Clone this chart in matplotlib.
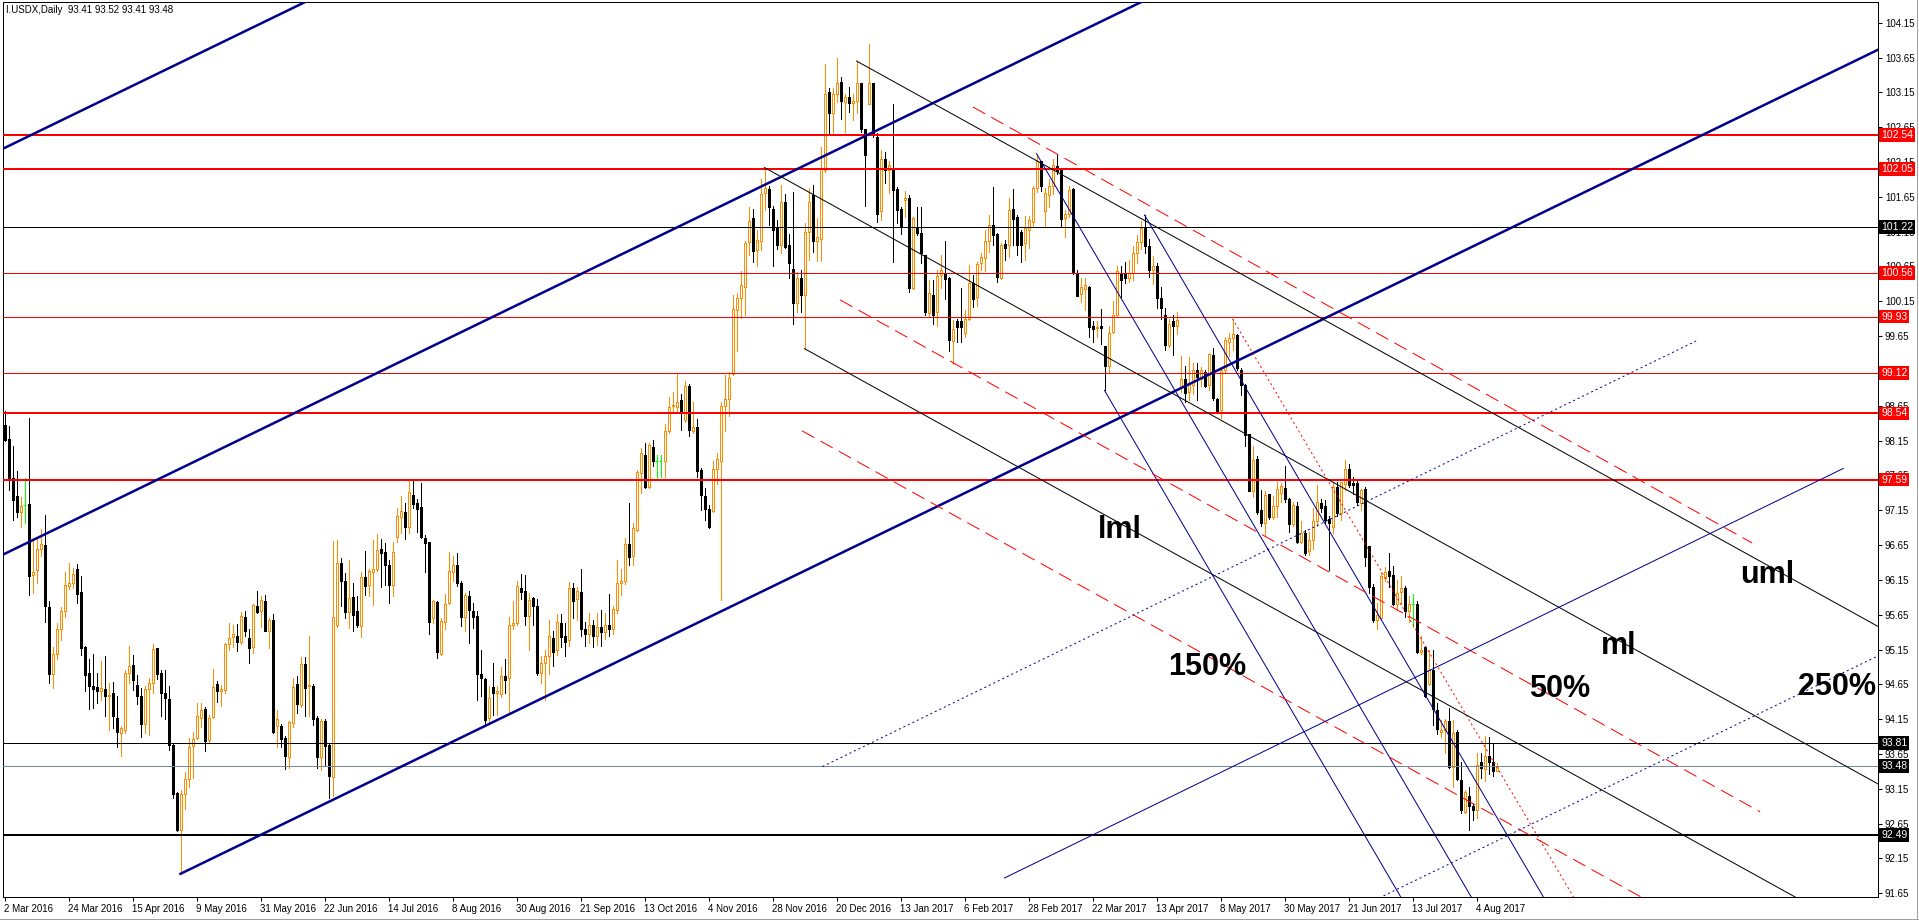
import matplotlib
matplotlib.use("Agg")
import matplotlib.pyplot as plt
from matplotlib.lines import Line2D

plt.rcParams['font.family'] = ['Liberation Sans', 'DejaVu Sans']

symbol = "I.USDX,Daily"

# daily OHLC, one value per bar starting 2 Mar 2016
opens = [
    98.38, 98.17, 97.61, 97.35, 97.13, 97.23, 97.24, 96.22, 96.29, 96.59,
    96.65, 95.76, 94.80, 95.08, 95.44, 95.70, 96.06, 96.10, 96.30, 95.97,
    95.19, 94.81, 94.62, 94.61, 94.55, 94.59, 94.48, 94.52, 94.16, 93.95,
    94.00, 94.82, 94.93, 94.64, 94.48, 94.08, 94.58, 94.67, 95.17, 94.82,
    94.53, 94.44, 93.78, 93.09, 92.56, 93.07, 93.29, 93.76, 93.88, 94.16,
    94.30, 93.85, 94.18, 94.66, 94.56, 94.57, 95.23, 95.33, 95.34, 95.26,
    95.62, 95.31, 95.18, 95.78, 95.71, 95.85, 95.42, 95.58, 94.05, 94.05,
    93.88, 93.61, 94.09, 94.66, 94.36, 94.94, 94.62, 94.63, 94.16, 93.60,
    94.12, 93.78, 93.32, 95.50, 96.39, 96.13, 95.69, 95.91, 95.71, 95.49,
    96.19, 96.08, 96.27, 96.30, 96.59, 96.55, 96.36, 96.08, 96.77, 97.05,
    97.13, 96.91, 97.37, 97.25, 97.20, 96.75, 96.70, 95.60, 95.83, 95.09,
    95.55, 95.82, 96.26, 96.36, 96.11, 95.62, 95.92, 95.71, 95.63, 94.80,
    94.72, 94.16, 94.61, 94.53, 94.51, 94.77, 94.74, 95.50, 95.53, 96.04,
    95.99, 95.63, 95.89, 95.78, 94.81, 94.95, 95.05, 95.32, 95.14, 95.53,
    95.34, 95.28, 96.04, 95.87, 95.97, 95.45, 95.38, 95.50, 95.35, 95.48,
    95.40, 95.50, 95.45, 95.72, 96.10, 96.13, 96.66, 96.50, 96.87, 97.68,
    97.95, 97.49, 98.06, 97.86, 97.86, 97.86, 98.29, 98.64, 98.63, 98.73,
    98.45, 98.94, 98.29, 98.34, 97.73, 97.36, 97.17, 97.14, 97.74, 97.86,
    98.64, 98.75, 99.11, 100.03, 100.20, 100.35, 101.00, 101.35, 100.88, 101.01,
    101.71, 101.76, 101.47, 101.20, 100.96, 101.58, 100.96, 100.61, 100.13, 100.48,
    100.24, 101.14, 101.68, 101.01, 101.05, 102.03, 103.16, 102.86, 103.13, 103.30,
    103.01, 103.09, 102.99, 103.02, 103.28, 102.62, 102.98, 103.29, 102.51, 101.44,
    102.20, 102.03, 102.03, 101.76, 101.48, 101.61, 101.63, 100.34, 101.22, 101.13,
    100.81, 99.98, 100.24, 99.99, 100.53, 100.56, 100.48, 99.58, 99.86, 99.87,
    99.69, 99.89, 100.41, 100.21, 100.70, 100.77, 101.01, 101.25, 101.12, 100.49,
    100.97, 100.96, 101.47, 101.36, 101.15, 100.98, 101.18, 101.29, 101.77, 102.16,
    101.44, 101.68, 101.80, 102.09, 102.04, 101.34, 101.40, 101.76, 100.56, 100.26,
    100.32, 100.36, 99.80, 99.76, 99.80, 99.51, 99.22, 99.71, 99.95, 100.56,
    100.56, 100.49, 100.56, 100.85, 101.00, 101.20, 100.95, 100.60, 100.65, 100.20,
    99.95, 99.52, 99.86, 99.80, 98.93, 99.03, 98.85, 98.95, 99.16, 99.03,
    99.14, 98.95, 99.38, 98.74, 98.59, 99.16, 99.57, 99.63, 99.67, 99.17,
    98.95, 98.25, 97.43, 97.88, 97.15, 96.97, 97.38, 97.05, 97.21, 97.40,
    97.47, 97.31, 96.95, 97.21, 96.69, 96.83, 96.56, 96.72, 96.99, 97.26,
    97.21, 97.02, 96.91, 97.49, 97.11, 97.53, 97.74, 97.54, 97.54, 97.26,
    97.46, 96.63, 96.05, 95.57, 95.60, 96.17, 96.28, 96.22, 95.81, 95.98,
    96.03, 95.71, 95.80, 95.80, 95.11, 95.19, 94.66, 94.86, 94.28, 93.96,
    94.00, 94.13, 93.47, 93.96, 93.28, 92.82, 93.05, 92.90, 92.85, 93.54,
    93.43, 93.62, 93.54, 93.41,
]
highs = [
    98.57, 98.36, 98.07, 97.72, 97.34, 97.61, 98.47, 96.75, 96.74, 96.88,
    97.08, 95.85, 95.19, 95.53, 95.76, 96.27, 96.39, 96.32, 96.38, 96.21,
    95.20, 95.01, 95.08, 94.81, 94.98, 95.05, 94.67, 94.69, 94.48, 94.05,
    94.86, 95.20, 95.07, 94.79, 94.60, 94.62, 94.74, 95.23, 95.17, 94.85,
    94.85, 94.62, 93.80, 93.11, 93.14, 93.39, 93.88, 93.97, 94.38, 94.38,
    94.32, 94.21, 94.87, 94.70, 94.64, 95.25, 95.53, 95.50, 95.52, 95.69,
    95.71, 95.44, 95.80, 95.99, 95.92, 95.93, 95.60, 95.66, 94.28, 94.08,
    93.91, 94.13, 94.74, 94.77, 95.04, 95.04, 95.34, 94.66, 94.19, 94.15,
    94.15, 93.80, 96.71, 96.72, 96.47, 96.25, 96.43, 96.10, 95.92, 96.27,
    96.56, 96.30, 96.72, 96.81, 96.73, 96.68, 96.43, 96.70, 97.18, 97.35,
    97.25, 97.58, 97.59, 97.31, 97.54, 96.80, 96.70, 95.86, 95.85, 95.60,
    95.95, 96.55, 96.49, 96.54, 96.14, 95.96, 95.99, 95.82, 95.70, 95.14,
    94.74, 94.62, 94.95, 94.62, 94.90, 95.01, 95.61, 95.84, 96.14, 96.24,
    96.22, 95.96, 95.90, 95.87, 95.06, 95.14, 95.57, 95.41, 95.66, 95.66,
    95.53, 96.12, 96.10, 96.05, 96.30, 95.55, 95.68, 95.58, 95.67, 95.72,
    95.68, 95.95, 95.78, 96.43, 96.30, 96.75, 97.25, 96.96, 97.73, 98.04,
    98.11, 98.11, 98.16, 97.95, 97.95, 98.39, 98.78, 98.85, 99.12, 98.82,
    99.01, 98.96, 98.71, 98.46, 97.76, 97.47, 97.22, 97.86, 97.97, 98.70,
    99.09, 99.14, 100.24, 100.27, 100.59, 101.02, 101.50, 101.48, 101.17, 101.91,
    102.07, 101.80, 101.52, 101.32, 101.82, 101.69, 101.12, 101.72, 100.57, 100.60,
    101.28, 101.77, 101.82, 101.34, 102.36, 103.56, 103.21, 103.21, 103.65, 103.37,
    103.13, 103.22, 103.12, 103.60, 103.28, 102.62, 103.84, 103.29, 102.56, 102.32,
    102.30, 102.16, 102.98, 101.79, 101.51, 101.74, 101.68, 101.36, 101.51, 101.51,
    100.81, 100.45, 100.46, 100.60, 100.81, 101.02, 100.50, 99.88, 99.89, 100.34,
    100.03, 100.67, 100.53, 100.71, 100.85, 101.18, 101.39, 101.79, 101.13, 100.98,
    101.03, 101.63, 101.76, 101.39, 101.18, 101.37, 101.37, 101.80, 102.27, 102.17,
    101.77, 101.90, 102.19, 102.25, 102.06, 101.46, 101.81, 101.77, 100.60, 100.49,
    100.49, 100.37, 99.86, 99.86, 100.04, 99.51, 99.79, 100.15, 100.65, 100.65,
    100.72, 100.74, 100.95, 101.10, 101.30, 101.39, 101.05, 100.80, 100.70, 100.35,
    100.05, 99.90, 99.95, 100.00, 99.36, 99.22, 99.35, 99.27, 99.26, 99.21,
    99.16, 99.41, 99.48, 98.76, 99.20, 99.64, 99.69, 99.90, 99.68, 99.19,
    98.96, 98.25, 98.07, 97.93, 97.44, 97.43, 97.39, 97.35, 97.56, 97.54,
    97.78, 97.32, 97.27, 97.27, 96.99, 96.87, 96.84, 97.18, 97.51, 97.31,
    97.30, 97.07, 97.55, 97.56, 97.56, 97.87, 97.81, 97.63, 97.59, 97.46,
    97.49, 96.64, 96.09, 95.82, 96.27, 96.33, 96.53, 96.35, 96.15, 96.20,
    96.06, 95.92, 95.95, 95.84, 95.35, 95.20, 95.15, 95.15, 94.38, 94.14,
    94.15, 94.31, 94.14, 93.99, 93.54, 93.14, 93.18, 92.93, 93.67, 93.66,
    93.91, 93.90, 93.81, 93.52,
]
lows = [
    98.14, 97.44, 97.01, 97.06, 96.91, 96.97, 95.94, 95.96, 96.10, 96.49,
    95.54, 94.67, 94.60, 95.01, 95.29, 95.62, 96.02, 96.03, 95.82, 95.07,
    94.56, 94.30, 94.31, 94.38, 94.42, 94.20, 94.00, 94.02, 93.75, 93.62,
    93.95, 94.67, 94.57, 94.37, 93.90, 93.95, 93.93, 94.53, 94.72, 94.20,
    94.15, 93.71, 93.02, 92.55, 91.93, 92.86, 93.18, 93.30, 93.86, 94.04,
    93.70, 93.81, 94.16, 94.40, 94.34, 94.53, 95.14, 95.19, 95.13, 95.23,
    95.35, 94.96, 95.10, 95.67, 95.48, 95.41, 95.17, 93.95, 93.75, 93.75,
    93.43, 93.45, 94.04, 94.24, 94.33, 94.20, 94.20, 94.07, 93.45, 93.42,
    93.48, 93.02, 93.04, 95.48, 95.77, 95.60, 95.46, 95.42, 95.48, 95.33,
    95.93, 95.92, 95.79, 96.28, 96.05, 96.08, 95.82, 95.92, 96.70, 96.82,
    96.74, 96.83, 97.18, 96.84, 96.75, 96.27, 95.37, 95.53, 95.03, 95.07,
    95.44, 95.81, 96.13, 96.06, 95.49, 95.42, 95.25, 95.46, 94.43, 94.48,
    94.07, 94.09, 94.21, 94.21, 94.47, 94.52, 94.23, 95.45, 95.50, 95.87,
    95.50, 95.15, 95.50, 94.79, 94.67, 94.43, 94.80, 94.91, 95.07, 95.18,
    95.06, 95.20, 95.60, 95.58, 95.35, 95.20, 95.25, 95.18, 95.22, 95.20,
    95.30, 95.35, 95.38, 95.68, 95.93, 96.09, 96.36, 96.36, 96.85, 97.40,
    97.47, 97.47, 97.79, 97.58, 97.62, 97.62, 98.26, 98.58, 98.58, 98.30,
    98.41, 98.22, 98.26, 97.62, 97.16, 97.01, 96.89, 97.12, 97.53, 95.86,
    98.29, 98.50, 99.09, 99.44, 99.91, 99.95, 100.81, 100.72, 100.65, 100.88,
    101.46, 101.24, 100.65, 100.90, 100.84, 100.92, 100.48, 99.83, 100.00, 100.00,
    99.47, 100.74, 100.86, 100.73, 100.73, 102.01, 102.56, 102.56, 103.01, 102.76,
    102.58, 102.87, 102.75, 102.86, 102.58, 101.52, 102.98, 102.51, 101.29, 101.32,
    101.85, 101.70, 100.72, 101.28, 101.12, 101.36, 100.29, 100.32, 101.10, 100.70,
    99.95, 99.92, 99.83, 99.79, 100.34, 100.18, 99.44, 99.25, 99.57, 99.57,
    99.64, 99.88, 100.07, 100.08, 100.60, 100.59, 100.86, 100.96, 100.43, 100.47,
    100.74, 100.79, 100.96, 100.82, 100.71, 100.74, 100.91, 101.22, 101.72, 101.74,
    101.23, 101.51, 101.69, 101.98, 101.21, 101.07, 101.36, 100.54, 100.22, 100.14,
    100.03, 99.64, 99.56, 99.64, 99.54, 98.87, 99.12, 99.69, 99.94, 100.21,
    100.41, 100.42, 100.45, 100.70, 100.90, 100.85, 100.50, 100.40, 100.05, 99.90,
    99.45, 99.50, 99.38, 99.68, 98.85, 98.71, 98.73, 98.82, 98.73, 98.93,
    98.92, 98.88, 98.73, 98.54, 98.48, 99.13, 99.36, 99.45, 99.17, 98.81,
    98.07, 97.42, 97.34, 97.10, 96.93, 96.80, 97.03, 97.02, 97.06, 97.27,
    97.27, 96.84, 96.92, 96.68, 96.68, 96.51, 96.51, 96.60, 96.92, 97.13,
    96.96, 96.29, 96.82, 97.07, 97.01, 97.44, 97.48, 97.38, 97.23, 97.15,
    96.35, 95.96, 95.55, 95.44, 95.59, 96.13, 96.05, 95.79, 95.72, 95.81,
    95.62, 95.55, 95.47, 95.10, 95.09, 94.47, 94.64, 94.07, 93.94, 93.90,
    93.66, 93.45, 93.18, 93.28, 92.80, 92.81, 92.56, 92.70, 92.73, 93.30,
    93.26, 93.37, 93.33, 93.41,
]
closes = [
    98.16, 97.61, 97.30, 97.12, 97.21, 97.23, 96.21, 96.26, 96.59, 96.67,
    95.77, 94.80, 95.08, 95.44, 95.70, 96.08, 96.10, 96.24, 95.95, 95.17,
    94.79, 94.62, 94.58, 94.56, 94.60, 94.48, 94.50, 94.20, 93.96, 94.02,
    94.81, 94.92, 94.71, 94.48, 94.08, 94.58, 94.67, 95.16, 94.80, 94.53,
    94.45, 93.78, 93.07, 92.56, 93.07, 93.29, 93.75, 93.86, 94.19, 94.28,
    93.83, 94.16, 94.61, 94.56, 94.59, 95.23, 95.31, 95.37, 95.26, 95.63,
    95.42, 95.17, 95.79, 95.69, 95.86, 95.42, 95.57, 93.97, 94.15, 93.87,
    93.62, 94.11, 94.61, 94.37, 94.94, 94.60, 94.64, 94.15, 93.61, 94.13,
    93.77, 93.33, 95.61, 96.39, 96.14, 95.69, 95.89, 95.65, 95.50, 96.19,
    96.06, 96.28, 96.30, 96.58, 96.54, 96.36, 96.08, 96.55, 97.07, 97.14,
    96.91, 97.41, 97.24, 97.17, 96.76, 96.68, 95.55, 95.84, 95.11, 95.56,
    95.81, 96.28, 96.36, 96.11, 95.62, 95.93, 95.72, 95.62, 94.80, 94.74,
    94.14, 94.46, 94.53, 94.56, 94.77, 94.71, 95.50, 95.53, 96.06, 95.98,
    95.63, 95.86, 95.78, 94.82, 94.95, 95.05, 95.35, 95.12, 95.54, 95.33,
    95.26, 96.04, 95.84, 95.99, 95.45, 95.38, 95.50, 95.35, 95.48, 95.40,
    95.50, 95.45, 95.73, 96.11, 96.13, 96.67, 96.48, 96.89, 97.70, 97.97,
    97.49, 98.09, 97.86, 97.86, 97.86, 98.29, 98.63, 98.66, 98.71, 98.58,
    98.93, 98.30, 98.34, 97.72, 97.37, 97.17, 96.91, 97.74, 97.89, 98.64,
    98.75, 99.05, 100.04, 100.20, 100.38, 100.99, 101.30, 100.87, 101.03, 101.69,
    101.77, 101.50, 101.17, 100.96, 101.58, 100.93, 100.70, 100.12, 100.48, 100.24,
    101.14, 101.58, 101.01, 101.07, 102.06, 103.13, 102.86, 103.12, 103.29, 103.03,
    103.08, 103.00, 103.02, 103.28, 102.62, 102.25, 103.28, 102.54, 101.41, 102.20,
    102.03, 102.10, 101.75, 101.46, 101.23, 101.64, 100.34, 101.35, 101.13, 100.84,
    100.00, 100.27, 99.95, 100.51, 100.60, 100.47, 99.59, 99.75, 99.78, 99.78,
    99.89, 100.41, 100.18, 100.69, 100.78, 101.02, 101.25, 101.10, 100.50, 100.96,
    100.91, 101.46, 101.33, 100.96, 100.96, 101.20, 101.32, 101.77, 102.17, 101.80,
    101.71, 101.80, 102.11, 102.02, 101.33, 101.40, 101.75, 100.55, 100.23, 100.35,
    100.38, 99.78, 99.75, 99.78, 99.76, 99.22, 99.70, 99.95, 100.58, 100.45,
    100.49, 100.56, 100.85, 101.00, 101.20, 100.95, 100.60, 100.65, 100.20, 100.05,
    99.52, 99.83, 99.80, 99.88, 99.04, 98.84, 98.97, 99.16, 99.06, 99.16,
    98.93, 99.40, 98.76, 98.55, 99.17, 99.59, 99.62, 99.68, 99.19, 98.95,
    98.23, 97.43, 97.87, 97.12, 96.97, 97.37, 97.05, 97.21, 97.45, 97.50,
    97.31, 96.95, 97.23, 96.69, 96.82, 96.54, 96.72, 96.99, 97.27, 97.18,
    97.01, 96.96, 97.49, 97.11, 97.55, 97.74, 97.51, 97.51, 97.27, 97.44,
    96.48, 96.05, 95.57, 95.65, 96.20, 96.27, 96.20, 95.81, 95.96, 96.03,
    95.71, 95.80, 95.80, 95.11, 95.15, 94.48, 94.86, 94.29, 94.01, 94.00,
    94.13, 93.47, 93.95, 93.29, 92.84, 93.10, 92.90, 92.84, 93.49, 93.45,
    93.62, 93.54, 93.41, 93.48,
]

date_labels = [
    "2 Mar 2016", "24 Mar 2016", "15 Apr 2016", "9 May 2016", "31 May 2016",
    "22 Jun 2016", "14 Jul 2016", "8 Aug 2016", "30 Aug 2016", "21 Sep 2016",
    "13 Oct 2016", "4 Nov 2016", "28 Nov 2016", "20 Dec 2016", "13 Jan 2017",
    "6 Feb 2017", "28 Feb 2017", "22 Mar 2017", "13 Apr 2017", "8 May 2017",
    "30 May 2017", "21 Jun 2017", "13 Jul 2017", "4 Aug 2017",
]
bars_per_label = 16

price_ticks = [
    91.65, 92.15, 92.65, 93.15, 93.65, 94.15, 94.65, 95.15, 95.65, 96.15,
    96.65, 97.15, 97.65, 98.15, 98.65, 99.15, 99.65, 100.15, 100.65, 101.15,
    101.65, 102.15, 102.65, 103.15, 103.65, 104.15,
]

# horizontal levels
levels = [102.54, 102.05, 101.22, 100.56, 99.93, 99.12, 98.54, 97.59, 93.81, 93.48, 92.49]
level_kind = ["res2", "res2", "blk1", "res1", "res1", "res1", "res2", "res2", "blk1", "bid", "blk2"]

# trend objects: anchor (bar, price) and slope in price per bar
channel_slope = 0.02788
channel_anchors = [(-1.125, 102.32), (-0.125, 96.52), (44, 91.93)]
fork_slope = -0.03179
fork_anchors = [(190, 102.07), (213, 103.60), (200, 99.47)]
steep_slope = -0.0982
steep_anchors = [(258, 102.27), (275, 98.87), (285, 101.39)]
dotted_red_anchor = (307, 99.90)
dotted_red_slope = -0.0974

red_dash_segments = [((242.1, 102.94), (436.9, 96.68)),
                     ((208.9, 100.17), (438.9, 92.82)),
                     ((199.4, 98.29), (410.0, 91.57))]
blue_dot_segments = [((204.5, 93.47), (422.9, 99.58)),
                     ((341.4, 91.52), (468.05, 95.05))]
blue_thin_segment = ((250.0, 91.87), (459.7, 97.75))

# text labels on the fork
fork_labels = [("uml", 440.6, 96.22), ("ml", 403.6, 95.20), ("lml", 278.9, 96.87),
               ("150%", 300.6, 94.90), ("50%", 388.9, 94.58), ("250%", 458.1, 94.61)]

ORANGE = "#FF8C00"
NAVY = "#00008B"
RED = "#FF0000"
PX = 0.72  # one pixel in points at 100 dpi

fig = plt.figure(figsize=(19.19, 9.21), dpi=100)
fig.patch.set_facecolor("white")
ax = fig.add_axes([3 / 1919, 24 / 921, 1875 / 1919, 895 / 921])
ax.set_xlim(-0.375, 468.375)
ax.set_ylim(91.597, 104.447)

# candles
n = len(closes)
idx = list(range(n))
wick_col = []
for i in idx:
    if closes[i] > opens[i]:
        wick_col.append(ORANGE)
    elif closes[i] < opens[i]:
        wick_col.append("black")
    else:
        wick_col.append("#00FF00")
ax.vlines(idx, lows, highs, colors=wick_col, linewidth=PX, zorder=3, antialiased=False)

up = [i for i in idx if closes[i] > opens[i]]
dn = [i for i in idx if closes[i] < opens[i]]
dj = [i for i in idx if closes[i] == opens[i]]
ax.bar(up, [closes[i] - opens[i] for i in up], bottom=[opens[i] for i in up], width=0.5,
       facecolor="white", edgecolor=ORANGE, linewidth=PX, zorder=4, antialiased=False)
ax.bar(dn, [opens[i] - closes[i] for i in dn], bottom=[closes[i] for i in dn], width=0.5,
       facecolor="black", edgecolor="black", linewidth=PX, zorder=4, antialiased=False)
ax.hlines([closes[i] for i in dj], [i - 0.4 for i in dj], [i + 0.4 for i in dj],
          colors="#00FF00", linewidth=PX, zorder=4)

# horizontal levels
style = {"res2": (RED, 2), "res1": (RED, 1), "blk1": ("black", 1), "blk2": ("black", 2),
         "bid": ("#778899", 1)}
box_col = {"res2": RED, "res1": RED, "blk1": "black", "blk2": "black", "bid": "black"}
for lv, kind in zip(levels, level_kind):
    col, w = style[kind]
    ax.axhline(lv, color=col, linewidth=w * PX, zorder=5, antialiased=False)
    ax.text(1.0 + 3 / 1875, lv, f"{lv:.2f}", transform=ax.get_yaxis_transform(),
            ha="left", va="center", color="white", fontsize=7.5, clip_on=False, zorder=9,
            bbox=dict(boxstyle="square,pad=0.18", fc=box_col[kind], ec="none"))

x_right = 470
# channel
for bx, py in channel_anchors:
    ax.plot([bx, x_right], [py, py + channel_slope * (x_right - bx)], color=NAVY,
            linewidth=2.5 * PX, zorder=5)
# pitchfork
for bx, py in fork_anchors:
    ax.plot([bx, x_right], [py, py + fork_slope * (x_right - bx)], color="black",
            linewidth=PX, zorder=5)
# steep fork
for bx, py in steep_anchors:
    ax.plot([bx, 400], [py, py + steep_slope * (400 - bx)], color=NAVY,
            linewidth=PX, zorder=5)
bx, py = dotted_red_anchor
ax.plot([bx, 400], [py, py + dotted_red_slope * (400 - bx)], color=RED, linewidth=PX,
        linestyle=(0, (2, 3)), zorder=5)
for (x0, y0), (x1, y1) in red_dash_segments:
    ax.plot([x0, x1], [y0, y1], color=RED, linewidth=PX, linestyle=(0, (14, 7)), zorder=5)
for (x0, y0), (x1, y1) in blue_dot_segments:
    ax.plot([x0, x1], [y0, y1], color=NAVY, linewidth=PX, linestyle=(0, (2, 3)), zorder=5)
(x0, y0), (x1, y1) = blue_thin_segment
ax.plot([x0, x1], [y0, y1], color=NAVY, linewidth=PX, zorder=5)

for txt, bx, py in fork_labels:
    ax.text(bx, py, txt, fontsize=22, fontweight="bold", ha="center", va="center",
            color="black", zorder=8)

# header
ax.text(3 / 1875, 1 - 8 / 895,
        f"{symbol}  {opens[-1]:.2f} {highs[-1]:.2f} {lows[-1]:.2f} {closes[-1]:.2f}",
        transform=ax.transAxes, ha="left", va="center", fontsize=7, zorder=9)

# axes
ax.yaxis.tick_right()
ax.set_yticks(price_ticks)
ax.set_yticklabels([f"{t:.2f}" for t in price_ticks])
ax.tick_params(axis="y", direction="out", length=3, width=PX, pad=2, labelsize=7)
ax.set_xticks([k * bars_per_label for k in range(len(date_labels))])
ax.set_xticklabels(date_labels, ha="left")
ax.tick_params(axis="x", direction="out", length=3, width=PX, pad=2, labelsize=7)
for s in ax.spines.values():
    s.set_linewidth(PX)
    s.set_color("black")

# window frame
fig.add_artist(Line2D([1917 / 1919, 1917 / 1919], [2 / 921, 1], color="#A0A0A0", linewidth=PX))
fig.add_artist(Line2D([0, 1], [2 / 921, 2 / 921], color="#A0A0A0", linewidth=PX))

fig.savefig("out.png", dpi=100)
